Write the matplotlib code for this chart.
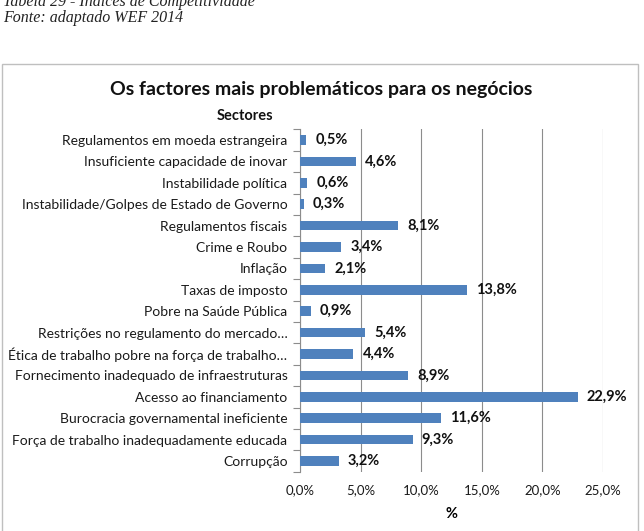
import matplotlib
matplotlib.use("Agg")
import matplotlib.pyplot as plt
from matplotlib.patches import Rectangle
from matplotlib.ticker import FuncFormatter

categories = [
    "Corrupção",
    "Força de trabalho inadequadamente educada",
    "Burocracia governamental ineficiente",
    "Acesso ao financiamento",
    "Fornecimento inadequado de infraestruturas",
    "Ética de trabalho pobre na força de trabalho…",
    "Restrições no regulamento do mercado…",
    "Pobre na Saúde Pública",
    "Taxas de imposto",
    "Inflação",
    "Crime e Roubo",
    "Regulamentos fiscais",
    "Instabilidade/Golpes de Estado de Governo",
    "Instabilidade política",
    "Insuficiente capacidade de inovar",
    "Regulamentos em moeda estrangeira",
]
values = [3.2, 9.3, 11.6, 22.9, 8.9, 4.4, 5.4, 0.9, 13.8, 2.1, 3.4, 8.1, 0.3, 0.6, 4.6, 0.5]
x_ticks = [0, 5, 10, 15, 20, 25]

FONT = ["Lato", "DejaVu Sans"]
plt.rcParams["font.family"] = FONT

fig = plt.figure(figsize=(6.44, 5.31), dpi=100)
W, H = 644, 531

# header text (serif italic)
fig.text(3 / W, 1 - 6 / H, "Tabela 29 - Índices de Competitividade", family="Liberation Serif",
         style="italic", fontsize=11.5, ha="left", va="baseline", color="#222222")
fig.text(3 / W, 1 - 22 / H, "Fonte: adaptado WEF 2014", family="Liberation Serif",
         style="italic", fontsize=11.5, ha="left", va="baseline", color="#222222")

# chart frame
fig.patches.append(Rectangle((2 / W, -0.05), 636 / W, (1 - 64 / H) + 0.05,
                             transform=fig.transFigure, fill=False, edgecolor="#bfbfbf",
                             linewidth=1.0))

ax = fig.add_axes([300 / W, 1 - 471.7 / H, 303 / W, 342.4 / H])
y = list(range(len(categories)))
ax.barh(y, values, height=0.45, color="#4F81BD", zorder=3)
for yi, v in zip(y, values):
    ax.text(v + 0.75, yi, f"{v:.1f}%".replace(".", ","), va="center", ha="left",
            fontsize=10.5, fontweight="bold", color="#111111", zorder=4)

ax.set_xlim(0, 25)
ax.set_ylim(-0.5, len(categories) - 0.5)
ax.set_xticks(x_ticks)
ax.xaxis.set_major_formatter(FuncFormatter(lambda v, p: f"{v:.1f}%".replace(".", ",")))
ax.set_yticks(y)
ax.set_yticklabels(categories)
ax.set_yticks([i - 0.5 for i in range(len(categories) + 1)], minor=True)
ax.tick_params(axis="y", which="major", length=0, pad=9, labelsize=10, labelcolor="#1a1a1a")
ax.tick_params(axis="y", which="minor", length=5, color="#8c8c8c", width=0.8)
ax.tick_params(axis="x", length=0, pad=9, labelsize=9.5, labelcolor="#1a1a1a")
ax.grid(axis="x", color="#8c8c8c", linewidth=0.8, zorder=0)
for s in ["top", "right", "bottom"]:
    ax.spines[s].set_visible(False)
ax.spines["left"].set_color("#8c8c8c")
ax.spines["left"].set_linewidth(0.8)

ax.set_xlabel("%", fontsize=10.5, fontweight="bold", labelpad=8)

fig.text(321 / W, 1 - 90 / H, "Os factores mais problemáticos para os negócios",
         fontsize=14, fontweight="bold", ha="center", va="center", color="#111111")
fig.text(245 / W, 1 - 116 / H, "Sectores", fontsize=10.5, fontweight="bold",
         ha="center", va="center", color="#111111")

fig.savefig("out.png", dpi=100)
